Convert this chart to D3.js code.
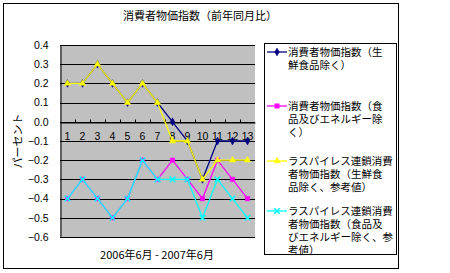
<!DOCTYPE html>
<html lang="ja">
<head>
<meta charset="UTF-8">
<title>消費者物価指数</title>
<script src="https://cdn.jsdelivr.net/npm/d3@7"></script>
<style>
    body { margin: 0; background: #fff; }
    svg text { font-family: "Noto Sans CJK JP", "Liberation Sans", sans-serif; fill: #000; }
    .num { font-family: "Liberation Sans", Arial, sans-serif; }
</style>
</head>
<body>
<svg id="chart" width="450" height="273"></svg>
<script>
    // data
    let months = [1, 2, 3, 4, 5, 6, 7, 8, 9, 10, 11, 12, 13];
    let coreCpi      = [0.2, 0.2, 0.3, 0.2, 0.1, 0.2, 0.1, 0.0, -0.1, -0.3, -0.1, -0.1, -0.1];
    let coreCoreCpi  = [-0.4, -0.3, -0.4, -0.5, -0.4, -0.2, -0.3, -0.2, -0.3, -0.4, -0.2, -0.3, -0.4];
    let chainCore    = [0.2, 0.2, 0.3, 0.2, 0.1, 0.2, 0.1, -0.1, -0.1, -0.3, -0.2, -0.2, -0.2];
    let chainCoreCore = [-0.4, -0.3, -0.4, -0.5, -0.4, -0.2, -0.3, -0.3, -0.3, -0.5, -0.3, -0.4, -0.5];
    let yTicks = [-0.6, -0.5, -0.4, -0.3, -0.2, -0.1, 0.0, 0.1, 0.2, 0.3, 0.4];
    let legendLabels = [
        ["消費者物価指数（生", "鮮食品除く）"],
        ["消費者物価指数（食", "品及びエネルギー除", "く）"],
        ["ラスパイレス連鎖消費", "者物価指数（生鮮食", "品除く、参考値）"],
        ["ラスパイレス連鎖消費", "者物価指数（食品及", "びエネルギー除く、参", "考値）"]
    ];

    let series = [
        {values: coreCpi, colour: "#000080", symbol: d3.symbolDiamond, size: 18},
        {values: coreCoreCpi, colour: "#ff00ff", symbol: d3.symbolSquare, size: 20},
        {values: chainCore, colour: "#ffff00", symbol: d3.symbolTriangle, size: 18},
        {values: chainCoreCore, colour: "#00ffff", symbol: d3.symbolTimes || d3.symbolCross, size: 22}
    ];

    let svg = d3.select('svg#chart');

    // outer border
    svg.append('rect')
        .attr('x', 3.5).attr('y', 3.5).attr('width', 395).attr('height', 265)
        .attr('fill', '#fff').attr('stroke', '#000').attr('stroke-width', 1);

    svg.append('text')
        .attr('x', 200).attr('y', 20)
        .attr('text-anchor', 'middle')
        .style('font-size', '11px')
        .text('消費者物価指数（前年同月比）');

    let plot = {left: 60, right: 255, top: 45, bottom: 237};

    let xScale = d3.scaleBand().domain(months).range([plot.left, plot.right]).padding(0);
    let yScale = d3.scaleLinear().domain([-0.6, 0.4]).range([plot.bottom, plot.top]);
    let cx = function(d) { return xScale(d) + xScale.bandwidth() / 2; };

    // plot background
    svg.append('rect')
        .attr('x', plot.left).attr('y', plot.top)
        .attr('width', plot.right - plot.left).attr('height', plot.bottom - plot.top)
        .attr('fill', '#c0c0c0');

    // gridlines
    svg.append('g')
        .selectAll('line')
        .data(yTicks)
        .enter()
        .append('line')
        .attr('x1', plot.left).attr('x2', plot.right)
        .attr('y1', function(d) { return Math.round(yScale(d)) + 0.5; })
        .attr('y2', function(d) { return Math.round(yScale(d)) + 0.5; })
        .attr('stroke', '#000').attr('stroke-width', 1);

    // y axis
    let yAxis = svg.append('g')
        .attr('transform', 'translate(' + (plot.left + 0.5) + ',0)')
        .call(d3.axisLeft(yScale).tickValues(yTicks).tickFormat(d3.format('.1f'))
            .tickSizeInner(0).tickSizeOuter(0).tickPadding(12));
    yAxis.select('.domain').attr('stroke', '#000');
    yAxis.selectAll('text').attr('class', 'num').style('font-size', '10.5px');

    // x axis crossing at zero
    let y0 = Math.round(yScale(0)) + 0.5;
    let xAxis = svg.append('g')
        .attr('transform', 'translate(0,' + y0 + ')')
        .call(d3.axisBottom(xScale).tickSize(0).tickPadding(10));
    xAxis.select('.domain').attr('stroke', '#000');
    xAxis.selectAll('text').attr('class', 'num').style('font-size', '10.5px');

    svg.append('g')
        .selectAll('line')
        .data(months.slice(1))
        .enter()
        .append('line')
        .attr('x1', function(d) { return Math.round(xScale(d)) + 0.5; })
        .attr('x2', function(d) { return Math.round(xScale(d)) + 0.5; })
        .attr('y1', y0 - 3).attr('y2', y0)
        .attr('stroke', '#000');

    // lines and markers
    let line = d3.line()
        .x(function(d, i) { return cx(months[i]); })
        .y(function(d) { return yScale(d); });

    series.forEach(function(s) {
        svg.append('path')
            .attr('d', line(s.values))
            .attr('fill', 'none')
            .attr('stroke', s.colour)
            .attr('stroke-width', 1.3);
        let isStroke = s.symbol === d3.symbolTimes || s.symbol === d3.symbolCross && !d3.symbolTimes;
        svg.append('g')
            .selectAll('path')
            .data(s.values)
            .enter()
            .append('path')
            .attr('transform', function(d, i) { return 'translate(' + cx(months[i]) + ',' + yScale(d) + ')'; })
            .attr('d', d3.symbol().type(s.symbol).size(s.size))
            .attr('fill', s.symbol === d3.symbolTimes ? 'none' : s.colour)
            .attr('stroke', s.colour)
            .attr('stroke-width', s.symbol === d3.symbolTimes ? 1.5 : 0.5);
    });

    // axis titles
    svg.append('text')
        .attr('transform', 'translate(22,141) rotate(-90)')
        .attr('text-anchor', 'middle')
        .style('font-size', '11px')
        .text('パーセント');

    svg.append('text')
        .attr('x', 157).attr('y', 259)
        .attr('text-anchor', 'middle')
        .style('font-size', '11px')
        .text('2006年6月 - 2007年6月');

    // legend
    let legend = svg.append('g');
    legend.append('rect')
        .attr('x', 264.5).attr('y', 43.5).attr('width', 132).attr('height', 211)
        .attr('fill', '#fff').attr('stroke', '#000');

    let entryTop = [52, 106, 161, 211];
    let lineGap = 13;
    series.forEach(function(s, k) {
        let ey = entryTop[k];
        legend.append('line')
            .attr('x1', 267).attr('x2', 287)
            .attr('y1', ey).attr('y2', ey)
            .attr('stroke', s.colour).attr('stroke-width', 1.3);
        legend.append('path')
            .attr('transform', 'translate(277,' + ey + ')')
            .attr('d', d3.symbol().type(s.symbol).size(s.size))
            .attr('fill', s.symbol === d3.symbolTimes ? 'none' : s.colour)
            .attr('stroke', s.colour)
            .attr('stroke-width', s.symbol === d3.symbolTimes ? 1.5 : 0.5);
        legend.append('text')
            .attr('x', 288)
            .attr('y', ey + 4)
            .style('font-size', '10.5px')
            .selectAll('tspan')
            .data(legendLabels[k])
            .enter()
            .append('tspan')
            .attr('x', 288)
            .attr('dy', function(d, i) { return i === 0 ? 0 : lineGap; })
            .text(function(d) { return d; });
    });
</script>
</body>
</html>
